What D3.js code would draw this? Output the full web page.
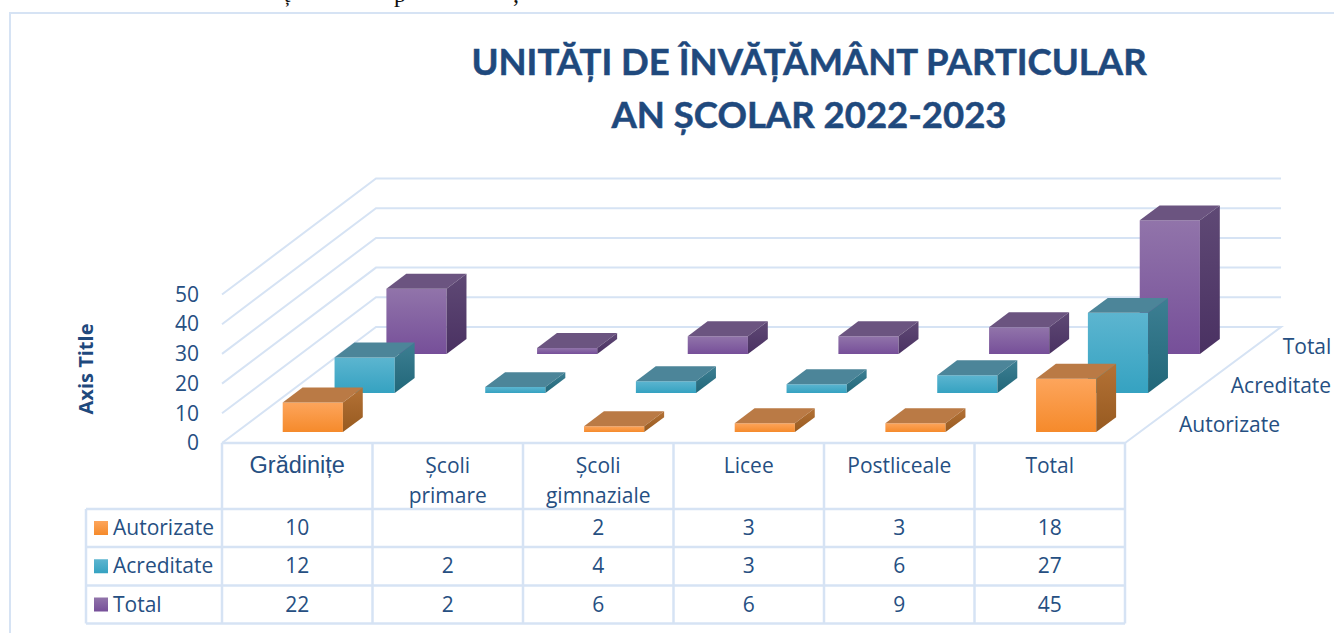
<!DOCTYPE html>
<html>
    <head>
        <meta charset="utf-8">
        <script src="https://d3js.org/d3.v7.min.js"></script>
        <style>
            html, body { margin: 0; padding: 0; background: #fff; overflow: hidden; }
            text { font-family: "Open Sans", Lato, sans-serif; fill: #264f82; }
        </style>
    </head>
    <body>
        <svg width="1334" height="633" id="chart"></svg>
        <script>
            // values
            const categories = ["Grădinițe", "Școli primare", "Școli gimnaziale", "Licee", "Postliceale", "Total"];
            const seriesNames = ["Autorizate", "Acreditate", "Total"];
            const autorizate = [10, null, 2, 3, 3, 18];
            const acreditate = [12, 2, 4, 3, 6, 27];
            const total = [22, 2, 6, 6, 9, 45];
            const seriesValues = [autorizate, acreditate, total];
            const yTicks = [0, 10, 20, 30, 40, 50];
            const titleLines = ["UNITĂȚI DE ÎNVĂȚĂMÂNT PARTICULAR", "AN ȘCOLAR 2022-2023"];

            const colors = [
                {front: ["#fda55c", "#f58a2b"], top: "#ba7a45", side: ["#b47236", "#975a20"]},
                {front: ["#5cb5d0", "#35a2c1"], top: "#4c8599", side: ["#3d7f93", "#216779"]},
                {front: ["#9174aa", "#764f99"], top: "#6b5480", side: ["#5f4975", "#4a3162"]}
            ];
            const lineColor = "#d6e3f4";

            let svg = d3.select("#chart");
            let defs = svg.append("defs");

            // floor of the chart: front edge and how far the back edge is pushed
            const plotLeft = 222, plotRight = 1125, floorY = 443;
            const backDx = 154, backDy = -116;

            let xScale = d3.scaleBand().domain(categories).range([plotLeft, plotRight]);
            // bars sit on a very slightly wider spacing than the table columns
            let barScale = d3.scaleBand().domain(categories).range([plotLeft + 1, plotRight + 2]);
            // z goes from 0 (front) to about 1 (back)
            let zScale = d3.scaleBand().domain(seriesNames).range([0, 1.01]);
            let yScale = d3.scaleLinear().domain([0, 50]).range([0, 148.5]);

            const barWidth = xScale.bandwidth() * 0.4;
            const barDepth = 0.129;

            // x in page px, z 0..1, v in data units -> page point
            const project = (x, z, v) => [x + z * backDx, floorY + z * backDy - yScale(v)];
            let polyLine = d3.line();

            function addGradient(id, stops) {
                let g = defs.append("linearGradient").attr("id", id)
                    .attr("x1", 0).attr("y1", 0).attr("x2", 0).attr("y2", 1);
                g.append("stop").attr("offset", "0%").attr("stop-color", stops[0]);
                g.append("stop").attr("offset", "100%").attr("stop-color", stops[1]);
            }
            colors.forEach((c, i) => {
                addGradient("front" + i, c.front);
                addGradient("side" + i, c.side);
            });

            // frame
            svg.append("path").attr("fill", "none").attr("stroke", lineColor).attr("stroke-width", 2)
                .attr("d", "M10,633V13H1334");

            // descenders of the page text cut off above the chart
            svg.append("g").selectAll("text").data([["ț", 287], ["p", 400], [",", 516]]).join("text")
                .attr("x", d => d[1]).attr("y", 2)
                .attr("text-anchor", "middle")
                .style("font-family", "'Liberation Serif'").style("fill", "#111").style("font-size", "24px")
                .text(d => d[0]);

            // title
            svg.append("g").selectAll("text").data(titleLines).join("text")
                .attr("x", 809).attr("y", (d, i) => 75 + i * 52.5)
                .attr("text-anchor", "middle")
                .style("font-family", "Lato, sans-serif")
                .style("font-size", "36.5px").style("font-weight", "700").style("fill", "#1f497d")
                .style("stroke", "#1f497d").style("stroke-width", 0.5)
                .text(d => d);

            // gridlines on side and back wall
            let grid = svg.append("g").attr("fill", "none").attr("stroke", lineColor).attr("stroke-width", 2);
            grid.selectAll("path").data(yTicks).join("path")
                .attr("d", d => polyLine([
                    project(plotLeft, 0, d),
                    project(plotLeft, 1, d),
                    project(plotRight + 2, 1, d)
                ].concat(d === 0 ? [project(plotRight, 0, 0)] : [])));

            // value axis
            let yAxisScale = d3.scaleLinear().domain([0, 50]).range([floorY, floorY - yScale(50)]);
            let yAxis = svg.append("g").attr("transform", "translate(199,0)")
                .attr("font-family", null)
                .call(d3.axisLeft(yAxisScale).tickValues(yTicks).tickSize(0).tickPadding(0));
            yAxis.select(".domain").remove();
            yAxis.selectAll("text").style("font-size", "21px");

            svg.append("text").attr("transform", "translate(93,369) rotate(-90)")
                .attr("text-anchor", "middle")
                .style("font-size", "20px").style("font-weight", "700").style("fill", "#1f497d")
                .text("Axis Title");

            // depth axis labels
            svg.append("g").selectAll("text").data(seriesNames).join("text")
                .attr("x", d => project(plotRight, zScale(d), 0)[0] + 54)
                .attr("y", d => project(plotRight, zScale(d), 0)[1] - 11)
                .style("font-size", "21px")
                .text(d => d);

            // bars, back row first so the front ones cover them
            let bars = svg.append("g");
            d3.range(seriesNames.length - 1, -1, -1).forEach(s => {
                let name = seriesNames[s];
                let z0 = zScale(name) + 0.094;
                let z1 = z0 + barDepth;
                let row = categories.map((c, i) => ({cat: c, v: seriesValues[s][i]})).filter(d => d.v !== null);
                let bar = bars.append("g").selectAll("g").data(row).join("g");
                const xa = d => barScale(d.cat) + (barScale.bandwidth() - barWidth) / 2;
                const xb = d => xa(d) + barWidth;
                // front
                bar.append("path").attr("fill", `url(#front${s})`)
                    .attr("d", d => polyLine([project(xa(d), z0, 0), project(xb(d), z0, 0), project(xb(d), z0, d.v), project(xa(d), z0, d.v)]) + "Z");
                // top
                bar.append("path").attr("fill", colors[s].top)
                    .attr("d", d => polyLine([project(xa(d), z0, d.v), project(xb(d), z0, d.v), project(xb(d), z1, d.v), project(xa(d), z1, d.v)]) + "Z");
                // right side
                bar.append("path").attr("fill", `url(#side${s})`)
                    .attr("d", d => polyLine([project(xb(d), z0, 0), project(xb(d), z1, 0), project(xb(d), z1, d.v), project(xb(d), z0, d.v)]) + "Z");
            });

            // data table
            const tableLeft = 86, tableRows = [509, 547, 585.5, 623.5];
            let table = svg.append("g").attr("stroke", lineColor).attr("stroke-width", 2.5).attr("fill", "none");
            let colEdges = xScale.domain().map(c => xScale(c)).concat([plotRight]);
            table.selectAll("line.col").data(colEdges).join("line").attr("class", "col")
                .attr("x1", d => d).attr("x2", d => d)
                .attr("y1", floorY).attr("y2", tableRows[3]);
            table.selectAll("line.row").data(tableRows).join("line").attr("class", "row")
                .attr("x1", tableLeft).attr("x2", plotRight)
                .attr("y1", d => d).attr("y2", d => d);
            table.append("line").attr("x1", tableLeft).attr("x2", tableLeft).attr("y1", tableRows[0]).attr("y2", tableRows[3]);
            table.append("line").attr("x1", plotLeft).attr("x2", plotRight).attr("y1", floorY).attr("y2", floorY);

            // header cells
            let header = svg.append("g").selectAll("text").data(categories).join("text")
                .attr("text-anchor", "middle")
                .style("font-size", (d, i) => i === 0 ? "23.5px" : "21px")
                .style("font-family", (d, i) => i === 0 ? "'Liberation Sans', sans-serif" : null);
            header.each(function(d) {
                let words = d === "Școli primare" || d === "Școli gimnaziale" ? d.split(" ") : [d];
                d3.select(this).selectAll("tspan").data(words).join("tspan")
                    .attr("x", xScale(d) + xScale.bandwidth() / 2)
                    .attr("y", (w, i) => 473 + i * 29.5)
                    .text(w => w);
            });

            // value cells and legend keys
            seriesNames.forEach((name, s) => {
                let midY = (tableRows[s] + tableRows[s + 1]) / 2;
                svg.append("rect").attr("x", 94).attr("y", midY - 7).attr("width", 14).attr("height", 14)
                    .attr("fill", `url(#front${s})`);
                svg.append("text").attr("x", 113).attr("y", midY + 7).style("font-size", "21px").text(name);
                svg.append("g").selectAll("text").data(seriesValues[s].map((v, i) => ({v: v, cat: categories[i]})).filter(d => d.v !== null)).join("text")
                    .attr("x", d => xScale(d.cat) + xScale.bandwidth() / 2)
                    .attr("y", midY + 7)
                    .attr("text-anchor", "middle").style("font-size", "21px")
                    .text(d => d.v);
            });
        </script>
    </body>
</html>
